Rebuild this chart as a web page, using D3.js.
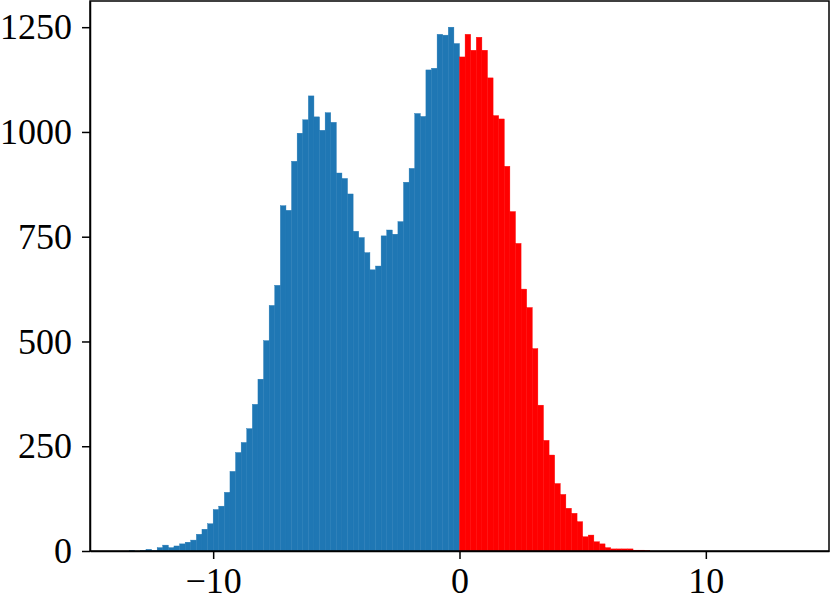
<!DOCTYPE html>
<html>
<head>
<meta charset="utf-8">
<script src="https://cdn.jsdelivr.net/npm/d3@7"></script>
<style>
  body { margin: 0; background: #fff; }
  .axis text { font-family: "Liberation Serif", "DejaVu Serif", serif; font-size: 36px; fill: #000; }
  .axis path, .axis line { stroke: #000; stroke-width: 1.5; }
</style>
</head>
<body>
<div id="graf"></div>
<script>
// Datos: histograma de 120 bins entre -13.64 y 13.64
const rangoMin = -150 / 11
const rangoMax = 150 / 11
const nBins = 120
const conteos = [
  // -13.64 ... -0.23 (azul)
  0, 1, 0, 1, 4, 1, 8, 14, 8, 12,
  17, 21, 26, 40, 52, 65, 99, 107, 140, 190,
  235, 259, 292, 350, 410, 502, 586, 634, 824, 813,
  930, 997, 1029, 1086, 1036, 1004, 1046, 1023, 902, 889,
  852, 763, 748, 712, 671, 680, 752, 766, 756, 786,
  880, 913, 1044, 1037, 1148, 1152, 1233, 1231, 1250, 1211,
  // 0 ... 13.41 (rojo)
  1179, 1233, 1195, 1226, 1195, 1129, 1039, 1031, 918, 810,
  734, 625, 581, 483, 348, 264, 229, 161, 135, 102,
  90, 70, 34, 38, 22, 17, 8, 5, 5, 5,
  5, 2, 2, 1, 0, 0, 0, 0, 0, 0,
  0, 0, 0, 0, 0, 0, 0, 0, 0, 0,
  0, 0, 0, 0, 0, 0, 0, 0, 0, 0,
]
const xTicks = [-10, 0, 10]
const yTicks = [0, 250, 500, 750, 1000, 1250]

const anchoBin = (rangoMax - rangoMin) / nBins
const bins = conteos.map((c, i) => ({ x0: rangoMin + i * anchoBin, x1: rangoMin + (i + 1) * anchoBin, n: c }))

// Dimensiones
const anchoTotal = 830
const altoTotal = 603
const margins = { top: 1, right: 1, bottom: 52, left: 90 }
const ancho = anchoTotal - margins.left - margins.right
const alto = altoTotal - margins.top - margins.bottom

const svg = d3.select("#graf")
  .append("svg")
  .attr("width", anchoTotal)
  .attr("height", altoTotal)
const g = svg.append("g")
  .attr("transform", `translate(${margins.left}, ${margins.top})`)

// Escaladores (margen de 5% como matplotlib)
const pad = (rangoMax - rangoMin) * 0.05
const x = d3.scaleLinear().domain([rangoMin - pad, rangoMax + pad]).range([0, ancho])
const y = d3.scaleLinear().domain([0, d3.max(conteos) * 1.05]).range([alto, 0])

const colorBin = (d) => (d.x0 >= -1e-9 ? "#ff0000" : "#1f77b4")

// Barras
g.selectAll("rect.bar")
  .data(bins)
  .join("rect")
  .attr("class", "bar")
  .attr("x", (d) => x(d.x0))
  .attr("y", (d) => y(d.n))
  .attr("width", (d) => x(d.x1) - x(d.x0))
  .attr("height", (d) => alto - y(d.n))
  .attr("fill", colorBin)
  .attr("stroke", colorBin)
  .attr("stroke-width", 0.4)

// Ejes
const fmt = d3.format("d")
g.append("g")
  .attr("class", "axis")
  .attr("transform", `translate(0, ${alto})`)
  .call(d3.axisBottom(x).tickValues(xTicks).tickFormat(fmt).tickSize(8).tickPadding(8).tickSizeOuter(0))
g.append("g")
  .attr("class", "axis")
  .call(d3.axisLeft(y).tickValues(yTicks).tickFormat(fmt).tickSize(8).tickPadding(10).tickSizeOuter(0))

// Marco
g.append("rect")
  .attr("x", 0)
  .attr("y", 0)
  .attr("width", ancho)
  .attr("height", alto)
  .attr("fill", "none")
  .attr("stroke", "#000")
  .attr("stroke-width", 1.5)
</script>
</body>
</html>
